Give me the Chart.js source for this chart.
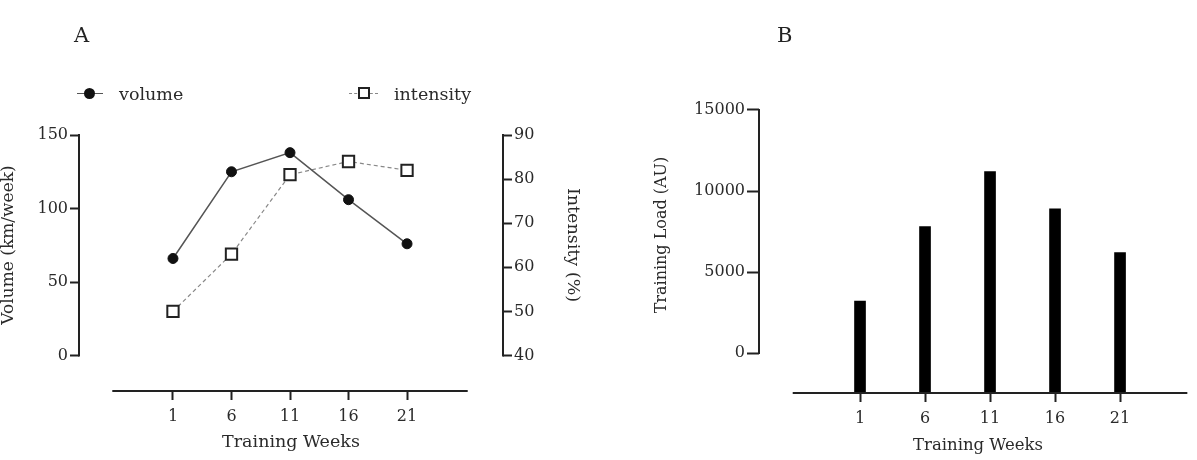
<!DOCTYPE html>
<html>
<head>
<meta charset="utf-8">
<script src="https://cdn.jsdelivr.net/npm/chart.js@4.4.1/dist/chart.umd.min.js"></script>
<style>
  body { margin: 0; background: #fff; font-family: 'DejaVu Serif', serif; color: #2a2a2a; }
  #wrap { position: relative; width: 1197px; height: 460px; overflow: hidden; }
  canvas { position: absolute; top: 0; }
  #chartA { left: 0; }
  #chartB { left: 600px; }
  .letter { position: absolute; top: 25px; font-size: 21px; line-height: 20px; color: #222; }
  .legend-item { position: absolute; top: 84px; height: 20px; font-size: 17.5px; line-height: 20px; white-space: nowrap; }
  .legend-item .line { position: absolute; top: 9px; height: 0; border-top: 1px solid #555; }
  .legend-item .line.dashed { border-top: 1px dashed #888; }
  .legend-item .dot { position: absolute; top: 4px; width: 11px; height: 11px; border-radius: 50%; background: #111; }
  .legend-item .box { position: absolute; top: 3px; width: 8px; height: 8px; border: 2px solid #222; background: #fff; }
  .legend-item .text { position: absolute; top: 0; }
</style>
</head>
<body>
<div id="wrap">
  <canvas id="chartA" width="600" height="460"></canvas>
  <canvas id="chartB" width="597" height="460"></canvas>
  <div class="letter" style="left:74px">A</div>
  <div class="letter" style="left:777px">B</div>
  <div id="legendA"></div>
</div>
<script>
// values
const weeks = [1, 6, 11, 16, 21];
const volumeKm = [66, 125, 138, 106, 76];
const intensityPct = [50, 63, 81, 84, 82];
const trainingLoad = [3200, 7800, 11200, 8900, 6200];

const volumeTicks = [0, 50, 100, 150];
const intensityTicks = [40, 50, 60, 70, 80, 90];
const loadTicks = [0, 5000, 10000, 15000];

const FONT = 'DejaVu Serif';
const TEXT = '#2a2a2a';
const AXIS = '#222';

// GraphPad style: axis lines only span the tick range, x axis sits apart
const detachedAxes = {
    id: 'detachedAxes',
    afterDatasetsDraw(chart, args, opts) {
        const ctx = chart.ctx;
        ctx.save();
        ctx.strokeStyle = AXIS;
        ctx.lineWidth = 2;
        ctx.lineCap = 'square';
        opts.axes.forEach(a => {
            const s = chart.scales[a.id];
            ctx.beginPath();
            if (s.isHorizontal()) {
                const y = s.top;
                ctx.moveTo(s.getPixelForValue(a.from), y);
                ctx.lineTo(s.getPixelForValue(a.to), y);
            } else {
                const x = s.position === 'left' ? s.right : s.left;
                ctx.moveTo(x, s.getPixelForValue(a.from));
                ctx.lineTo(x, s.getPixelForValue(a.to));
            }
            ctx.stroke();
        });
        ctx.restore();
    }
};

function fixedTicks(values) {
    return scale => { scale.ticks = values.map(v => ({ value: v })); };
}

function tickOpts(size, padding) {
    return {
        color: TEXT,
        font: { family: FONT, size: size },
        padding: padding,
        autoSkip: false,
        maxRotation: 0,
        callback: v => String(v)
    };
}

function tickMarks(len) {
    return { drawOnChartArea: false, drawTicks: true, tickLength: len, tickWidth: 2, tickColor: AXIS, offset: false };
}

function titleOpts(text, size, padding) {
    return { display: true, text: text, color: TEXT, font: { family: FONT, size: size, lineHeight: 1 }, padding: padding };
}

// Panel A: volume and intensity
new Chart(document.getElementById('chartA'), {
    type: 'line',
    data: {
        datasets: [{
            label: 'volume',
            data: weeks.map((w, i) => ({ x: w, y: volumeKm[i] })),
            yAxisID: 'y',
            borderColor: '#555',
            borderWidth: 1.5,
            pointStyle: 'circle',
            pointRadius: 5,
            pointBackgroundColor: '#111',
            pointBorderColor: '#111',
            pointBorderWidth: 1
        }, {
            label: 'intensity',
            data: weeks.map((w, i) => ({ x: w, y: intensityPct[i] })),
            yAxisID: 'y1',
            borderColor: '#888',
            borderWidth: 1.2,
            borderDash: [4, 3],
            pointStyle: 'rect',
            pointRadius: 8,
            pointBackgroundColor: '#fff',
            pointBorderColor: '#222',
            pointBorderWidth: 2
        }]
    },
    options: {
        responsive: false,
        animation: false,
        layout: { padding: { top: 99, left: 0, right: 0, bottom: 0 } },
        plugins: {
            legend: { display: false },
            tooltip: { enabled: false },
            detachedAxes: { axes: [
                { id: 'y', from: 0, to: 150 },
                { id: 'y1', from: 40, to: 90 },
                { id: 'x', from: -4.1, to: 26.1 }
            ] }
        },
        scales: {
            x: {
                type: 'linear', position: 'bottom', min: -7.03, max: 29.2,
                afterBuildTicks: fixedTicks(weeks),
                afterFit: s => { s.height = 69; },
                border: { display: false },
                grid: tickMarks(9),
                ticks: tickOpts(16, 7),
                title: titleOpts('Training Weeks', 17.5, { top: 0, bottom: 9 })
            },
            y: {
                type: 'linear', position: 'left', min: -24.15, max: 174.5,
                afterBuildTicks: fixedTicks(volumeTicks),
                afterFit: s => { s.width = 79; },
                border: { display: false },
                grid: tickMarks(9),
                ticks: tickOpts(16, 2),
                title: titleOpts('Volume (km/week)', 17, { top: 0, bottom: 0 })
            },
            y1: {
                type: 'linear', position: 'right', min: 31.95, max: 98.17,
                afterBuildTicks: fixedTicks(intensityTicks),
                afterFit: s => { s.width = 97; },
                border: { display: false },
                grid: tickMarks(9),
                ticks: tickOpts(16, 2),
                title: titleOpts('Intensity (%)', 17.5, { top: 18.5, bottom: 0 })
            }
        }
    },
    plugins: [detachedAxes]
});

// Panel B: training load
const loadAxisMin = -2469;
new Chart(document.getElementById('chartB'), {
    type: 'bar',
    data: {
        datasets: [{
            label: 'Training Load',
            data: weeks.map((w, i) => ({ x: w, y: trainingLoad[i] })),
            backgroundColor: '#000',
            barThickness: 11,
            base: loadAxisMin
        }]
    },
    options: {
        responsive: false,
        animation: false,
        layout: { padding: { top: 77, left: 0, right: 0, bottom: 0 } },
        plugins: {
            legend: { display: false },
            tooltip: { enabled: false },
            detachedAxes: { axes: [
                { id: 'y', from: 0, to: 15000 },
                { id: 'x', from: -4.1, to: 26.1 }
            ] }
        },
        scales: {
            x: {
                type: 'linear', position: 'bottom', min: -6.77, max: 26.92,
                offset: false,
                afterBuildTicks: fixedTicks(weeks),
                afterFit: s => { s.height = 67; },
                border: { display: false },
                grid: tickMarks(9),
                ticks: tickOpts(16, 7),
                title: titleOpts('Training Weeks', 16.5, { top: 0, bottom: 6 })
            },
            y: {
                type: 'linear', position: 'left', min: loadAxisMin, max: 17037,
                afterBuildTicks: fixedTicks(loadTicks),
                afterFit: s => { s.width = 159; },
                border: { display: false },
                grid: tickMarks(12),
                ticks: tickOpts(16, 2),
                title: titleOpts('Training Load (AU)', 16, { top: 54, bottom: 0 })
            }
        }
    },
    plugins: [detachedAxes]
});

// HTML legend for panel A (line + marker keys)
const legendSeries = [
    { label: 'volume', left: 77, keyWidth: 26, marker: 'dot', dashed: false },
    { label: 'intensity', left: 349, keyWidth: 29, marker: 'box', dashed: true }
];
const legendEl = document.getElementById('legendA');
legendSeries.forEach(s => {
    const item = document.createElement('div');
    item.className = 'legend-item';
    item.style.left = s.left + 'px';
    const mid = s.keyWidth / 2;
    item.innerHTML = `
        <div class="line${s.dashed ? ' dashed' : ''}" style="left:0;width:${s.keyWidth}px"></div>
        <div class="${s.marker}" style="left:${mid - 6}px"></div>
        <div class="text" style="left:${s.keyWidth + 16}px">${s.label}</div>
    `;
    legendEl.appendChild(item);
});
</script>
</body>
</html>
